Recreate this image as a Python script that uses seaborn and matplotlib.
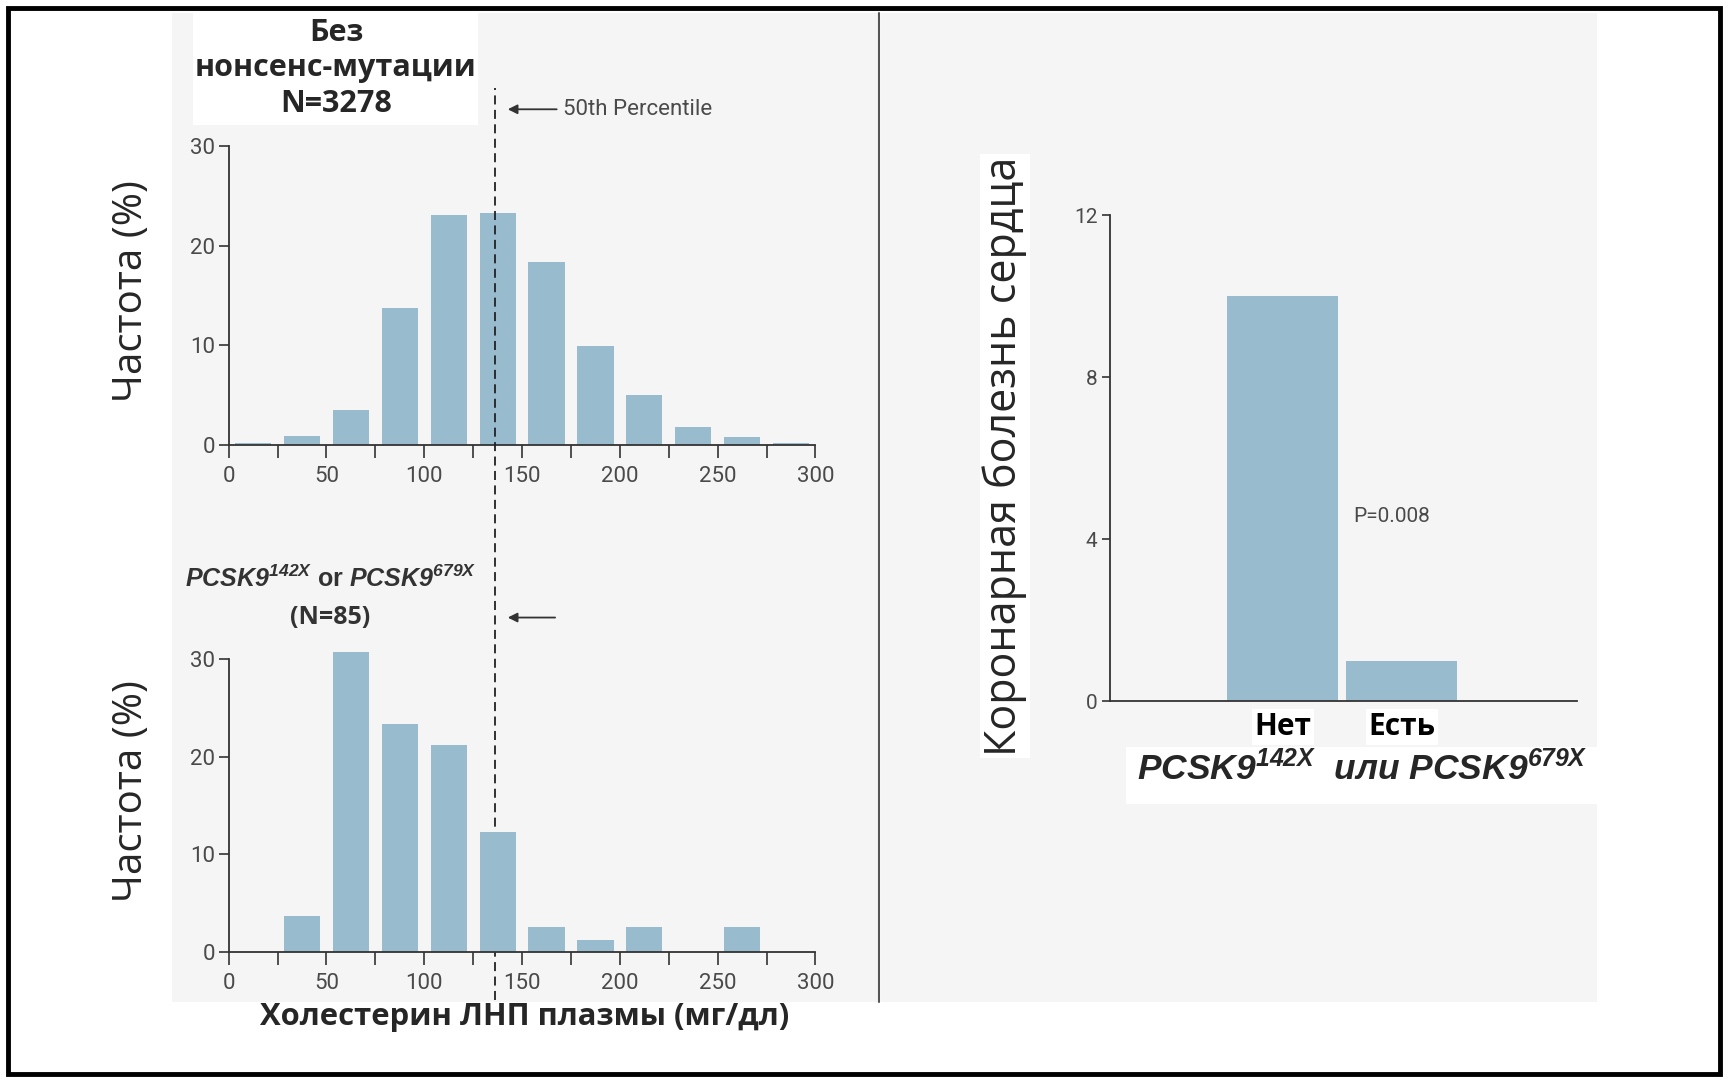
import matplotlib
matplotlib.use("Agg")
import matplotlib.pyplot as plt
from matplotlib.patches import Rectangle
from matplotlib.lines import Line2D
import seaborn as sns

# values
bin_centers = [12.5, 37.5, 62.5, 87.5, 112.5, 137.5, 162.5, 187.5, 212.5, 237.5, 262.5, 287.5]
freq_no_mutation = [0.2, 0.9, 3.5, 13.8, 23.1, 23.3, 18.4, 9.9, 5.0, 1.85, 0.85, 0.2]
freq_mutation = [0, 3.7, 30.8, 23.4, 21.2, 12.3, 2.5, 1.2, 2.5, 0, 2.5, 0]
percentile_50 = 136.4
x_ticks = [0, 50, 100, 150, 200, 250, 300]
x_minor = [25, 75, 125, 175, 225, 275]
y_ticks_hist = [0, 10, 20, 30]

chd_groups = ["Нет", "Есть"]
chd_values = [10.0, 1.0]
y_ticks_chd = [0, 4, 8, 12]

bar_color = "#98bccd"
panel_color = "#f5f5f5"
axis_color = "#333333"
tick_color = "#4a4a4a"
tick_font = ['Roboto', 'DejaVu Sans']

sns.set_style("ticks")
plt.rcParams['font.family'] = ['Open Sans', 'DejaVu Sans']
plt.rcParams['mathtext.fontset'] = 'custom'
plt.rcParams['mathtext.rm'] = 'Liberation Sans:bold:italic'
plt.rcParams['mathtext.it'] = 'Liberation Sans:bold:italic'
plt.rcParams['mathtext.bf'] = 'Liberation Sans:bold:italic'

fig = plt.figure(figsize=(17.23, 10.77), dpi=100)

# grey panels, divider, white boxes and outer frame
fig.patches.append(Rectangle((0.0998, 0.0696), 0.4103, 0.9184, transform=fig.transFigure,
                             facecolor=panel_color, edgecolor='none', zorder=-2))
fig.patches.append(Rectangle((0.5113, 0.0696), 0.4156, 0.9184, transform=fig.transFigure,
                             facecolor=panel_color, edgecolor='none', zorder=-2))
fig.patches.append(Rectangle((0.112, 0.884), 0.1654, 0.104, transform=fig.transFigure,
                             facecolor='white', edgecolor='none', zorder=-1))
fig.patches.append(Rectangle((0.6535, 0.2535), 0.2734, 0.0529, transform=fig.transFigure,
                             facecolor='white', edgecolor='none', zorder=-1))
fig.lines.append(Line2D([0.5102, 0.5102], [0.0696, 0.988], transform=fig.transFigure,
                        color='#555555', lw=1.5))
fig.patches.append(Rectangle((0.0046, 0.0028), 0.9937, 0.9898, transform=fig.transFigure,
                             facecolor='none', edgecolor='black', lw=3.5, zorder=5))

ax1 = fig.add_axes([0.1327, 0.5868, 0.3406, 0.296])
ax2 = fig.add_axes([0.1327, 0.1163, 0.3406, 0.2895])
ax3 = fig.add_axes([0.6442, 0.3491, 0.2711, 0.4509])

sns.barplot(x=bin_centers, y=freq_no_mutation, native_scale=True, width=0.74, color=bar_color,
            saturation=1, linewidth=0, errorbar=None, ax=ax1)
sns.barplot(x=bin_centers, y=freq_mutation, native_scale=True, width=0.74, color=bar_color,
            saturation=1, linewidth=0, errorbar=None, ax=ax2)

for ax in [ax1, ax2]:
    ax.set_facecolor('none')
    ax.set_xlim(0, 300)
    ax.set_ylim(0, 32)
    ax.set_xticks(x_ticks)
    ax.set_xticks(x_minor, minor=True)
    ax.set_yticks(y_ticks_hist)
    ax.set_xticklabels([str(t) for t in x_ticks])
    ax.tick_params(axis='x', which='both', length=9, width=1.2, color=axis_color, pad=6)
    ax.tick_params(axis='y', length=7, width=1.2, color=axis_color, pad=3)
    ax.tick_params(labelsize=16, labelcolor=tick_color)
    for tl in ax.get_xticklabels() + ax.get_yticklabels():
        tl.set_family(tick_font)
    ax.spines[['top', 'right']].set_visible(False)
    ax.spines['left'].set_bounds(0, 30)
    ax.spines['bottom'].set_bounds(0, 300)
    for s in ['left', 'bottom']:
        ax.spines[s].set_color(axis_color)
        ax.spines[s].set_linewidth(1.3)
    ax.set_xlabel('')
    ax.set_ylabel('')

# 50th percentile dashed line running through both histograms
ax1.axvline(percentile_50, ymin=-1.741, ymax=1.12, clip_on=False, color='#222222', lw=1.3,
            ls=(0, (5, 3)), zorder=3)
ax1.annotate("50th Percentile", xy=(142.7, 33.7), xytext=(170.8, 33.7), va='center', ha='left',
             fontsize=16, color=tick_color, family=tick_font, annotation_clip=False,
             arrowprops=dict(arrowstyle='-|>', color=axis_color, lw=1.3, mutation_scale=14,
                             shrinkA=2, shrinkB=0))
ax2.annotate("", xy=(142.7, 34.3), xytext=(166.9, 34.3), annotation_clip=False,
             arrowprops=dict(arrowstyle='-|>', color=axis_color, lw=1.3, mutation_scale=14,
                             shrinkA=0, shrinkB=0))

# coronary heart disease bars
sns.barplot(x=chd_groups, y=chd_values, order=chd_groups, width=0.93, color=bar_color,
            saturation=1, linewidth=0, errorbar=None, ax=ax3)
ax3.set_facecolor('none')
ax3.set_xlim(-1.45, 2.47)
ax3.set_ylim(0, 12)
ax3.set_yticks(y_ticks_chd)
ax3.tick_params(axis='y', length=6, width=1.2, color=axis_color, labelsize=15,
                labelcolor=tick_color, pad=3)
ax3.tick_params(axis='x', length=0, pad=8, labelsize=21.5)
for tl in ax3.get_yticklabels():
    tl.set_family(tick_font)
for tl in ax3.get_xticklabels():
    tl.set_fontweight('bold')
    tl.set_color('black')
    tl.set_bbox(dict(facecolor='white', edgecolor='none', pad=2))
ax3.spines[['top', 'right']].set_visible(False)
ax3.spines['left'].set_bounds(0, 12)
for s in ['left', 'bottom']:
    ax3.spines[s].set_color(axis_color)
    ax3.spines[s].set_linewidth(1.3)
ax3.set_xlabel('')
ax3.set_ylabel('')
ax3.text(0.594, 4.56, "P=0.008", va='center', ha='left', fontsize=15, color=tick_color,
         family=tick_font)

# labels
fig.text(0.195, 0.9364, "Без\nнонсенс-мутации\nN=3278", ha='center', va='center',
         fontsize=22, fontweight='bold', linespacing=1.25)
fig.text(0.0766, 0.7298, "Частота (%)", rotation=90, ha='center', va='center', fontsize=29)
fig.text(0.0766, 0.2656, "Частота (%)", rotation=90, ha='center', va='center', fontsize=29)
fig.text(0.1074, 0.4624, r"$PCSK9^{142X}$ or $PCSK9^{679X}$", ha='left', va='center',
         fontsize=18, fontweight='bold', color='#333333', family=['Liberation Sans'])
fig.text(0.1915, 0.4262, "(N=85)", ha='center', va='center', fontsize=18, fontweight='bold',
         color='#333333')
fig.text(0.3047, 0.0557, "Холестерин ЛНП плазмы (мг/дл)", ha='center', va='center',
         fontsize=22.3, fontweight='bold')
fig.text(0.5833, 0.5766, "Коронарная болезнь сердца", rotation=90, ha='center', va='center',
         fontsize=31, bbox=dict(facecolor='white', edgecolor='none', pad=2))
fig.text(0.7905, 0.286, r"$PCSK9^{142X}$  или $PCSK9^{679X}$", ha='center', va='center',
         fontsize=25.5, fontweight='bold', style='italic', family=['Liberation Sans'])

fig.savefig("out.png", dpi=100)
